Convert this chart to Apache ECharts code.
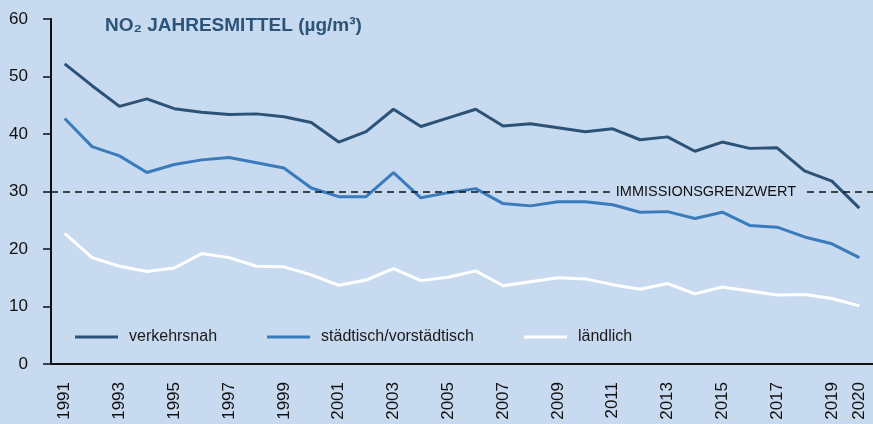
<!DOCTYPE html>
<html>
<head>
<meta charset="utf-8">
<script src="https://cdn.jsdelivr.net/npm/echarts@6/dist/echarts.min.js"></script>
<style>
html,body{margin:0;padding:0;background:#c7daef;}
#chart{width:873px;height:424px;}
</style>
</head>
<body>
<div id="chart"></div>
<script>
const years = ['1991','1992','1993','1994','1995','1996','1997','1998','1999','2000','2001','2002','2003','2004','2005','2006','2007','2008','2009','2010','2011','2012','2013','2014','2015','2016','2017','2018','2019','2020'];
const verkehrsnah = [52.2,48.4,44.8,46.1,44.4,43.8,43.4,43.5,43.0,42.0,38.6,40.4,44.3,41.3,42.8,44.3,41.4,41.8,41.1,40.4,40.9,39.0,39.5,37.0,38.6,37.5,37.6,33.6,31.8,27.1];
const staedtisch = [42.7,37.8,36.2,33.3,34.7,35.5,35.9,35.0,34.1,30.6,29.1,29.1,33.3,28.9,29.8,30.5,27.9,27.5,28.2,28.2,27.7,26.4,26.5,25.3,26.4,24.1,23.8,22.1,20.9,18.5];
const laendlich = [22.7,18.5,17.0,16.1,16.7,19.2,18.5,17.0,16.9,15.5,13.7,14.6,16.6,14.5,15.1,16.2,13.6,14.3,15.0,14.8,13.8,13.0,14.0,12.2,13.4,12.7,12.0,12.1,11.4,10.1];
const seriesNames = ['verkehrsnah','städtisch/vorstädtisch','ländlich'];
const limitValue = 30;
const limitLabel = 'IMMISSIONSGRENZWERT';
const titleText = 'NO₂ JAHRESMITTEL (µg/m³)';

const BG = '#c7daef';
const FONT = 'Liberation Sans, Arial, sans-serif';
const chart = echarts.init(document.getElementById('chart'));
chart.setOption({
  backgroundColor: BG,
  animation: false,
  title: {
    text: titleText, left: 100, top: 11,
    textStyle: {fontFamily: FONT, fontSize: 19, fontWeight: 'bold', color: '#2c5479'}
  },
  legend: {
    left: 70, top: 324, itemWidth: 43, itemHeight: 3, itemGap: 50,
    icon: 'rect',
    data: seriesNames,
    textStyle: {fontFamily: FONT, fontSize: 16, color: '#1a1a1a', padding: [0,0,0,6]}
  },
  grid: {left: 51, top: 19, bottom: 60, right: -10},
  xAxis: {
    type: 'category', data: years, boundaryGap: true,
    axisLine: {lineStyle: {color: '#111', width: 2}},
    axisTick: {alignWithLabel: true, interval: 0, length: 8, lineStyle: {color: '#111', width: 1.5}},
    axisLabel: {
      rotate: 90, margin: 18, color: '#111', fontFamily: FONT, fontSize: 17,
      interval: function (i, v) { return i % 2 === 0 || v === '2020'; }
    }
  },
  yAxis: {
    type: 'value', min: 0, max: 60, interval: 10,
    splitLine: {show: false},
    axisLine: {show: true, lineStyle: {color: '#111', width: 2}},
    axisTick: {show: true, length: 8, lineStyle: {color: '#111', width: 1.5}},
    axisLabel: {margin: 23, color: '#111', fontFamily: FONT, fontSize: 17}
  },
  series: [
    {
      name: seriesNames[0], type: 'line', data: verkehrsnah, symbol: 'none', z: 4,
      lineStyle: {color: '#2c5277', width: 3}, itemStyle: {color: '#2c5277'},
      markLine: {
        silent: true, symbol: 'none',
        lineStyle: {color: '#111', type: [7,5], width: 1.5},
        label: {
          show: true, position: 'insideEnd', distance: [71, 0],
          formatter: limitLabel, color: '#111', fontFamily: FONT, fontSize: 14.5,
          backgroundColor: BG, padding: [2, 6]
        },
        data: [{yAxis: limitValue}]
      }
    },
    {
      name: seriesNames[1], type: 'line', data: staedtisch, symbol: 'none', z: 3,
      lineStyle: {color: '#3a7bbd', width: 3}, itemStyle: {color: '#3a7bbd'}
    },
    {
      name: seriesNames[2], type: 'line', data: laendlich, symbol: 'none', z: 2,
      lineStyle: {color: '#ffffff', width: 3}, itemStyle: {color: '#ffffff'}
    }
  ]
});
</script>
</body>
</html>
